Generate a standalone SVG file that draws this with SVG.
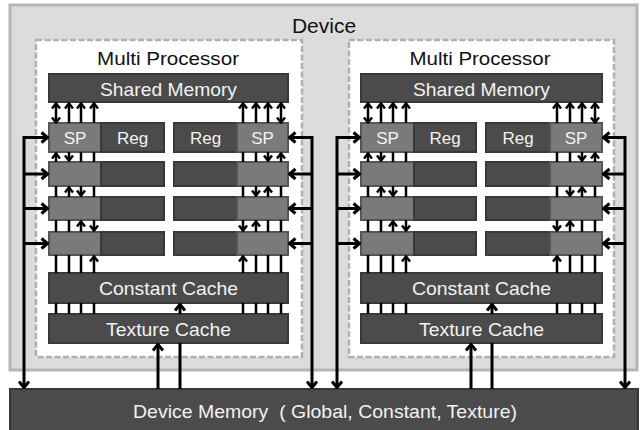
<svg xmlns="http://www.w3.org/2000/svg" width="642" height="430" viewBox="0 0 642 430">
<defs>
<style>
.dev{fill:#dcdcdc;stroke:#b5b5b5;stroke-width:3}
.mp{fill:#ffffff;stroke:#b0b0b0;stroke-width:2.5;stroke-dasharray:6 2.5}
.dk{fill:#4b4b4b;stroke:#383838;stroke-width:2}
.sp{fill:#7a7a7a;stroke:#555555;stroke-width:2}
.t{font-family:"Liberation Sans",Arial,sans-serif;text-anchor:middle}
.lt{fill:#f2f2f2}
.bk{fill:#111111}
.c{stroke:#000;stroke-width:2.5;fill:none}
.o{stroke:#000;stroke-width:3;fill:none}
.ci{stroke:#000;stroke-width:2.5;fill:none;marker-end:url(#a)}
.co{stroke:#000;stroke-width:3;fill:none;marker-end:url(#A)}
</style>
<marker id="a" viewBox="-7 -5 8 10" refX="0" refY="0" markerWidth="8" markerHeight="10" markerUnits="userSpaceOnUse" orient="auto-start-reverse">
<path d="M-5.5,-4 L-0.5,0 L-5.5,4" fill="none" stroke="#000" stroke-width="2.5"/>
</marker>
<marker id="A" viewBox="-8 -7 9 14" refX="0" refY="0" markerWidth="9" markerHeight="14" markerUnits="userSpaceOnUse" orient="auto-start-reverse">
<path d="M-6.5,-5 L-0.5,0 L-6.5,5" fill="none" stroke="#000" stroke-width="3"/>
</marker>
</defs>

<g id="device">
<rect class="dev" x="10" y="5" width="627" height="365"/>
<text class="t bk" x="324" y="33" font-size="21">Device</text>
</g>

<g id="mp1">
<rect class="mp" x="36" y="40" width="266" height="317"/>
<text class="t bk" x="168" y="65" font-size="19" textLength="142" lengthAdjust="spacingAndGlyphs">Multi Processor</text>
</g>
<g id="mp1-shared">
<rect class="dk" x="49" y="74" width="239" height="28"/>
<text class="t lt" x="168.5" y="96" font-size="19" textLength="137" lengthAdjust="spacingAndGlyphs">Shared Memory</text>
</g>
<g id="mp1-rowL1"><rect class="sp" x="49" y="123" width="52" height="29"/><rect class="dk" x="101" y="123" width="63" height="29"/>
<text class="t lt" x="75" y="144" font-size="17">SP</text><text class="t lt" x="132.5" y="144" font-size="17">Reg</text></g>
<g id="mp1-rowR1"><rect class="dk" x="174" y="123" width="63" height="29"/><rect class="sp" x="237" y="123" width="51" height="29"/>
<text class="t lt" x="205.5" y="144" font-size="17">Reg</text><text class="t lt" x="262.5" y="144" font-size="17">SP</text></g>
<g id="mp1-rowL2"><rect class="sp" x="49" y="162" width="52" height="24"/><rect class="dk" x="101" y="162" width="63" height="24"/></g>
<g id="mp1-rowR2"><rect class="dk" x="174" y="162" width="63" height="24"/><rect class="sp" x="237" y="162" width="51" height="24"/></g>
<g id="mp1-rowL3"><rect class="sp" x="49" y="197" width="52" height="23"/><rect class="dk" x="101" y="197" width="63" height="23"/></g>
<g id="mp1-rowR3"><rect class="dk" x="174" y="197" width="63" height="23"/><rect class="sp" x="237" y="197" width="51" height="23"/></g>
<g id="mp1-rowL4"><rect class="sp" x="49" y="232" width="52" height="23"/><rect class="dk" x="101" y="232" width="63" height="23"/></g>
<g id="mp1-rowR4"><rect class="dk" x="174" y="232" width="63" height="23"/><rect class="sp" x="237" y="232" width="51" height="23"/></g>
<g id="mp1-const">
<rect class="dk" x="49" y="273" width="239" height="30"/>
<text class="t lt" x="168.5" y="295" font-size="19" textLength="139" lengthAdjust="spacingAndGlyphs">Constant Cache</text>
</g>
<g id="mp1-tex">
<rect class="dk" x="49" y="314" width="239" height="29"/>
<text class="t lt" x="168.5" y="336" font-size="19" textLength="125" lengthAdjust="spacingAndGlyphs">Texture Cache</text>
</g>

<g id="mp2">
<rect class="mp" x="349" y="40" width="265" height="317"/>
<text class="t bk" x="480" y="65" font-size="19" textLength="141" lengthAdjust="spacingAndGlyphs">Multi Processor</text>
</g>
<g id="mp2-shared">
<rect class="dk" x="361" y="74" width="241" height="28"/>
<text class="t lt" x="481.5" y="96" font-size="19" textLength="137" lengthAdjust="spacingAndGlyphs">Shared Memory</text>
</g>
<g id="mp2-rowL1"><rect class="sp" x="361" y="123" width="53" height="29"/><rect class="dk" x="414" y="123" width="62" height="29"/>
<text class="t lt" x="387.5" y="144" font-size="17">SP</text><text class="t lt" x="445" y="144" font-size="17">Reg</text></g>
<g id="mp2-rowR1"><rect class="dk" x="486" y="123" width="64" height="29"/><rect class="sp" x="550" y="123" width="52" height="29"/>
<text class="t lt" x="518" y="144" font-size="17">Reg</text><text class="t lt" x="576" y="144" font-size="17">SP</text></g>
<g id="mp2-rowL2"><rect class="sp" x="361" y="162" width="53" height="24"/><rect class="dk" x="414" y="162" width="62" height="24"/></g>
<g id="mp2-rowR2"><rect class="dk" x="486" y="162" width="64" height="24"/><rect class="sp" x="550" y="162" width="52" height="24"/></g>
<g id="mp2-rowL3"><rect class="sp" x="361" y="197" width="53" height="23"/><rect class="dk" x="414" y="197" width="62" height="23"/></g>
<g id="mp2-rowR3"><rect class="dk" x="486" y="197" width="64" height="23"/><rect class="sp" x="550" y="197" width="52" height="23"/></g>
<g id="mp2-rowL4"><rect class="sp" x="361" y="232" width="53" height="23"/><rect class="dk" x="414" y="232" width="62" height="23"/></g>
<g id="mp2-rowR4"><rect class="dk" x="486" y="232" width="64" height="23"/><rect class="sp" x="550" y="232" width="52" height="23"/></g>
<g id="mp2-const">
<rect class="dk" x="361" y="273" width="241" height="30"/>
<text class="t lt" x="481.5" y="295" font-size="19" textLength="139" lengthAdjust="spacingAndGlyphs">Constant Cache</text>
</g>
<g id="mp2-tex">
<rect class="dk" x="361" y="314" width="241" height="29"/>
<text class="t lt" x="481.5" y="336" font-size="19" textLength="125" lengthAdjust="spacingAndGlyphs">Texture Cache</text>
</g>

<g id="device-memory">
<rect class="dk" x="10" y="389" width="628" height="45"/>
<text class="t lt" x="325" y="418" font-size="19" textLength="384" lengthAdjust="spacingAndGlyphs" xml:space="preserve">Device Memory  ( Global, Constant, Texture)</text>
</g>

<g id="connectors">
<!-- MP1 left SP column: x 56,69,81,94 -->
<path class="ci" d="M56,123 V103" marker-start="url(#a)"/>
<path class="ci" d="M69,123 V103"/><path class="ci" d="M81,123 V103"/><path class="ci" d="M94,123 V103"/>
<path class="ci" d="M56,162 V153"/><path class="ci" d="M69,152 V161"/><path class="c" d="M81,152 V162 M94,152 V162"/>
<path class="ci" d="M69,197 V187"/><path class="ci" d="M81,186 V196"/><path class="c" d="M56,186 V197 M94,186 V197"/>
<path class="ci" d="M81,232 V221"/><path class="ci" d="M94,220 V231"/><path class="c" d="M56,220 V232 M69,220 V232"/>
<path class="ci" d="M94,273 V256"/><path class="c" d="M56,255 V273 M69,255 V273 M81,255 V273"/>
<path class="c" d="M56,303 V314 M69,303 V314 M81,303 V314 M94,303 V314"/>
<!-- MP1 right SP column: x 281,268,256,243 -->
<path class="ci" d="M281,123 V103" marker-start="url(#a)"/>
<path class="ci" d="M268,123 V103"/><path class="ci" d="M256,123 V103"/><path class="ci" d="M243,123 V103"/>
<path class="ci" d="M281,162 V153"/><path class="ci" d="M268,152 V161"/><path class="c" d="M256,152 V162 M243,152 V162"/>
<path class="ci" d="M268,197 V187"/><path class="ci" d="M256,186 V196"/><path class="c" d="M281,186 V197 M243,186 V197"/>
<path class="ci" d="M256,232 V221"/><path class="ci" d="M243,220 V231"/><path class="c" d="M281,220 V232 M268,220 V232"/>
<path class="ci" d="M243,273 V256"/><path class="c" d="M281,255 V273 M268,255 V273 M256,255 V273"/>
<path class="c" d="M281,303 V314 M268,303 V314 M256,303 V314 M243,303 V314"/>
<!-- MP1 outer -->
<path class="co" d="M48,137.5 H24 V388" marker-start="url(#A)"/>
<path class="co" d="M24,174 H48"/><path class="co" d="M24,208.5 H48"/><path class="co" d="M24,243.5 H48"/>
<path class="co" d="M289,137.5 H312 V388" marker-start="url(#A)"/>
<path class="co" d="M312,174 H289"/><path class="co" d="M312,208.5 H289"/><path class="co" d="M312,243.5 H289"/>
<!-- MP1 texture -->
<path class="co" d="M158,389 V344"/>
<path class="o" d="M180,389 V343"/><path class="co" d="M180,314 V304"/>

<!-- MP2 left SP column: x 368,381,393,406 -->
<path class="ci" d="M368,123 V103" marker-start="url(#a)"/>
<path class="ci" d="M381,123 V103"/><path class="ci" d="M393,123 V103"/><path class="ci" d="M406,123 V103"/>
<path class="ci" d="M368,162 V153"/><path class="ci" d="M381,152 V161"/><path class="c" d="M393,152 V162 M406,152 V162"/>
<path class="ci" d="M381,197 V187"/><path class="ci" d="M393,186 V196"/><path class="c" d="M368,186 V197 M406,186 V197"/>
<path class="ci" d="M393,232 V221"/><path class="ci" d="M406,220 V231"/><path class="c" d="M368,220 V232 M381,220 V232"/>
<path class="ci" d="M406,273 V256"/><path class="c" d="M368,255 V273 M381,255 V273 M393,255 V273"/>
<path class="c" d="M368,303 V314 M381,303 V314 M393,303 V314 M406,303 V314"/>
<!-- MP2 right SP column: x 595,582,570,557 -->
<path class="ci" d="M595,123 V103" marker-start="url(#a)"/>
<path class="ci" d="M582,123 V103"/><path class="ci" d="M570,123 V103"/><path class="ci" d="M557,123 V103"/>
<path class="ci" d="M595,162 V153"/><path class="ci" d="M582,152 V161"/><path class="c" d="M570,152 V162 M557,152 V162"/>
<path class="ci" d="M582,197 V187"/><path class="ci" d="M570,186 V196"/><path class="c" d="M595,186 V197 M557,186 V197"/>
<path class="ci" d="M570,232 V221"/><path class="ci" d="M557,220 V231"/><path class="c" d="M595,220 V232 M582,220 V232"/>
<path class="ci" d="M557,273 V256"/><path class="c" d="M595,255 V273 M582,255 V273 M570,255 V273"/>
<path class="c" d="M595,303 V314 M582,303 V314 M570,303 V314 M557,303 V314"/>
<!-- MP2 outer -->
<path class="co" d="M360,137.5 H337 V388" marker-start="url(#A)"/>
<path class="co" d="M337,174 H360"/><path class="co" d="M337,208.5 H360"/><path class="co" d="M337,243.5 H360"/>
<path class="co" d="M603,137.5 H625 V388" marker-start="url(#A)"/>
<path class="co" d="M625,174 H603"/><path class="co" d="M625,208.5 H603"/><path class="co" d="M625,243.5 H603"/>
<!-- MP2 texture -->
<path class="co" d="M471,389 V344"/>
<path class="o" d="M492,389 V343"/><path class="co" d="M492,314 V304"/>
</g>
</svg>
